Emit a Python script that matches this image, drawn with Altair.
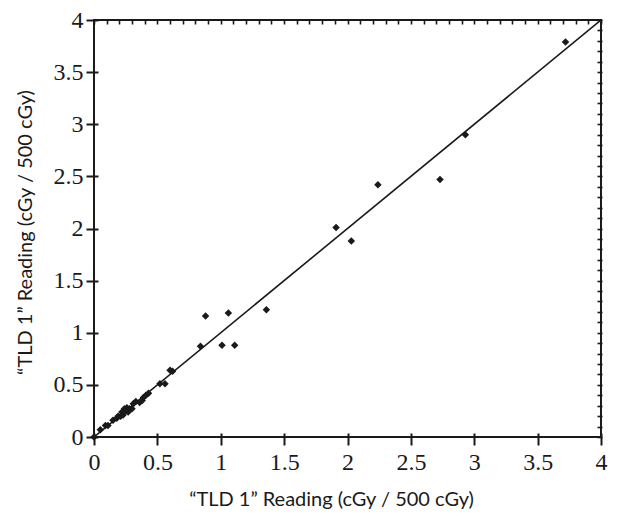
import altair as alt
import pandas as pd

x_vals = [0.0, 0.05, 0.09, 0.11, 0.15, 0.18, 0.19, 0.21, 0.22, 0.23, 0.24, 0.25, 0.26, 0.27,
          0.28, 0.30, 0.31, 0.33, 0.36, 0.38, 0.39, 0.41, 0.43, 0.52, 0.56, 0.60, 0.62,
          0.84, 0.88, 1.01, 1.06, 1.11, 1.36, 1.91, 2.03, 2.24, 2.73, 2.93, 3.72]
y_vals = [0.0, 0.07, 0.11, 0.11, 0.16, 0.18, 0.20, 0.20, 0.24, 0.21, 0.27, 0.25, 0.28, 0.24,
          0.27, 0.27, 0.32, 0.34, 0.33, 0.35, 0.38, 0.40, 0.42, 0.51, 0.51, 0.64, 0.63,
          0.87, 1.16, 0.88, 1.19, 0.88, 1.22, 2.01, 1.88, 2.42, 2.47, 2.90, 3.79]

line_x = [0, 4]
line_y = [0, 4]

major_ticks = [0, 0.5, 1, 1.5, 2, 2.5, 3, 3.5, 4]
minor_ticks = [round(i * 0.1, 1) for i in range(41)]

pts = pd.DataFrame({"x": x_vals, "y": y_vals})
ln = pd.DataFrame({"x": line_x, "y": line_y})

title_text = "\u201cTLD 1\u201d Reading (cGy / 500 cGy)"

xs = alt.Scale(domain=[0, 4], nice=False, zero=True)
ys = alt.Scale(domain=[0, 4], nice=False, zero=True)

major_common = dict(
    values=major_ticks, domain=False, grid=False, offset=-4, tickSize=12,
    tickColor="#1a1a1a", tickWidth=2, labelFont="Liberation Serif", labelFontSize=24,
    labelColor="#1a1a1a", titleFont="Lato", titleFontSize=20, titleFontWeight="normal",
    titleColor="#1a1a1a", labelFlush=False, labelOverlap=False, format=".1~f",
)

x_major = alt.Axis(title=title_text, labelPadding=5, titleX=237, titleY=72,
                   titleBaseline="alphabetic", titleAlign="center", **major_common)
y_major = alt.Axis(title=title_text, labelPadding=3, titleX=-67, titleY=212,
                   titleAngle=-90, titleBaseline="alphabetic", titleAlign="center",
                   **major_common)

minor_common = dict(values=minor_ticks, domain=False, grid=False, offset=-4, tickSize=5,
                    tickColor="#1a1a1a", tickWidth=1.6, labels=False, title=None)
x_minor = alt.Axis(**minor_common)
y_minor = alt.Axis(**minor_common)

points = alt.Chart(pts).mark_point(shape="diamond", filled=True, size=56,
                                   color="#1a1a1a", opacity=1).encode(
    x=alt.X("x:Q", scale=xs, axis=x_major),
    y=alt.Y("y:Q", scale=ys, axis=y_major),
)

line = alt.Chart(ln).mark_line(color="#1a1a1a", strokeWidth=1.6, clip=True).encode(
    x=alt.X("x:Q", scale=xs, axis=x_minor),
    y=alt.Y("y:Q", scale=ys, axis=y_minor),
)

chart = alt.layer(points, line).resolve_axis(x="independent", y="independent").properties(
    width=507, height=417,
    autosize=alt.AutoSizeParams(type="none"),
    padding={"left": 94, "top": 20, "right": 16, "bottom": 86},
    background="white",
).configure_view(stroke="#1a1a1a", strokeWidth=2)

chart.save("out.html", embed_options={"renderer": "svg", "actions": False})
